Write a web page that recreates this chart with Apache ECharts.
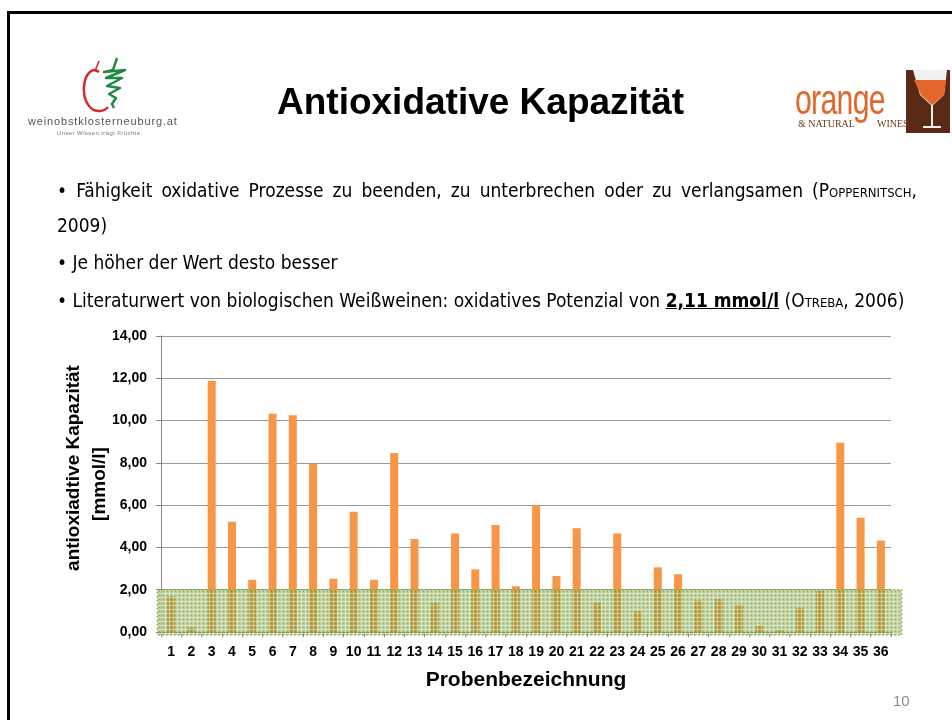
<!DOCTYPE html>
<html>
<head>
<meta charset="utf-8">
<script src="https://cdn.jsdelivr.net/npm/echarts@6/dist/echarts.min.js"></script>
<style>
body { margin: 0; background: #fff; }
#main { position: absolute; left: 0; top: 0; width: 952px; height: 720px; }
.t { position: absolute; white-space: nowrap; color: #000; }
.body { font-family: "Liberation Sans Narrow", "DejaVu Sans Condensed", "Liberation Sans", sans-serif; font-size: 19px; }
.sc { font-variant: small-caps; }
</style>
</head>
<body>
<div id="main"></div>

<div class="t" style="left:277px;top:81px;font:bold 37px 'Liberation Sans',Arial,sans-serif;">Antioxidative Kapazität</div>

<div class="t body" style="left:57px;top:179px;width:860px;text-align:justify;text-align-last:justify;white-space:normal;">• Fähigkeit oxidative Prozesse zu beenden, zu unterbrechen oder zu verlangsamen (<span class="sc">Poppernitsch</span>,</div>
<div class="t body" style="left:57px;top:214px;">2009)</div>
<div class="t body" style="left:57px;top:251px;">• Je höher der Wert desto besser</div>
<div class="t body" style="left:57px;top:289px;">• Literaturwert von biologischen Weißweinen: oxidatives Potenzial von <b><u>2,11 mmol/l</u></b> (<span class="sc">Otreba</span>, 2006)</div>

<div class="t" style="left:28px;top:115px;font:11px 'Liberation Sans',Arial,sans-serif;color:#555;letter-spacing:0.85px;">weinobstklosterneuburg.at</div>
<div class="t" style="left:57px;top:130px;font:6px 'Liberation Sans',Arial,sans-serif;color:#777;letter-spacing:0.4px;">Unser Wissen trägt Früchte.</div>

<div class="t" style="left:795px;top:76px;font:42px 'Liberation Sans Narrow','Liberation Sans',sans-serif;color:#e4662c;transform-origin:0 0;transform:scaleX(0.72);letter-spacing:-1px;">orange</div>
<div class="t" style="left:798px;top:118px;font:10px 'Liberation Serif',serif;color:#6b3a1e;">&amp; NATURAL</div>
<div class="t" style="left:877px;top:118px;font:10px 'Liberation Serif',serif;color:#6b3a1e;">WINES</div>

<div class="t" style="left:893px;top:692px;font:15px 'Liberation Sans',Arial,sans-serif;color:#8c8c8c;">10</div>

<script>
// Probenbezeichnung 1..36
var proben = [];
for (var i = 1; i <= 36; i++) proben.push(String(i));

// antioxidative Kapazität [mmol/l]
var kapazitaet = [
    1.69, 0.22, 11.88, 5.21, 2.47, 10.32, 10.25, 7.95, 2.52, 5.69,
    2.47, 8.47, 4.40, 1.39, 4.66, 2.96, 5.06, 2.16, 6.00, 2.65,
    4.91, 1.39, 4.66, 0.99, 3.06, 2.73, 1.50, 1.57, 1.28, 0.31,
    0.09, 1.15, 1.94, 8.95, 5.40, 4.33
];

// Bereich um den Literaturwert (schraffiert)
var band = [0, 2];
var yMin = 0, yMax = 14, yStep = 2;

var dom = document.getElementById('main');
var chart = echarts.init(dom);

function makePattern() {
    var c = document.createElement('canvas');
    c.width = 4; c.height = 4;
    var g = c.getContext('2d');
    g.fillStyle = 'rgba(128,165,60,0.55)';
    g.fillRect(0, 0, 4, 4);
    g.fillStyle = 'rgba(255,255,255,0.4)';
    g.fillRect(0, 1, 4, 1);
    g.fillRect(1, 0, 1, 4);
    g.fillStyle = 'rgba(100,135,40,0.5)';
    g.fillRect(3, 3, 1, 1);
    return c;
}

var logo = [
    // Rahmen
    { type: 'line', id: 'fTop', shape: { x1: 7, y1: 12.5, x2: 952, y2: 12.5 }, style: { stroke: '#000', lineWidth: 3 } },
    { type: 'line', id: 'fLeft', shape: { x1: 8.5, y1: 11, x2: 8.5, y2: 720 }, style: { stroke: '#000', lineWidth: 3 } },
    // Apfel
    { type: 'bezierCurve', id: 'apple1', shape: { x1: 99, y1: 72, cpx1: 86, cpy1: 62, cpx2: 76, cpy2: 96, x2: 92, y2: 109 }, style: { stroke: '#d42a2a', lineWidth: 2.5, fill: null } },
    { type: 'bezierCurve', id: 'apple2', shape: { x1: 92, y1: 109, cpx1: 96, cpy1: 112, cpx2: 104, cpy2: 112, x2: 108, y2: 107 }, style: { stroke: '#d42a2a', lineWidth: 2.5, fill: null } },
    { type: 'line', id: 'stem', shape: { x1: 95, y1: 71, x2: 99, y2: 61 }, style: { stroke: '#d42a2a', lineWidth: 1.5 } },
    { type: 'polyline', id: 'swirl', shape: { points: [[117, 58], [113, 70], [104, 72], [125, 70], [106, 78], [122, 78], [107, 86], [120, 88], [109, 94], [116, 98], [112, 104], [114, 108]] }, style: { stroke: '#1e8a43', lineWidth: 2.5, fill: null, lineJoin: 'round' } },
    // Glas
    { type: 'rect', id: 'glassBg', shape: { x: 906, y: 70, width: 44, height: 63 }, style: { fill: '#5b2a17' } },
    { type: 'polygon', id: 'glassBowl', shape: { points: [[913, 70], [947, 70], [944, 95], [932, 106], [920, 95]] }, style: { fill: '#f0f0f0' } },
    { type: 'polygon', id: 'glassWine', shape: { points: [[914, 80], [946, 80], [944, 95], [932, 105], [921, 95]] }, style: { fill: '#e4662c' } },
    { type: 'rect', id: 'glassStem', shape: { x: 931, y: 105, width: 2, height: 22 }, style: { fill: '#f0f0f0' } },
    { type: 'rect', id: 'glassFoot', shape: { x: 923, y: 126, width: 18, height: 2 }, style: { fill: '#f0f0f0' } }
];

var option = {
    animation: false,
    grid: { left: 161, right: 61, top: 336, bottom: 88 },
    xAxis: {
        type: 'category',
        data: proben,
        name: 'Probenbezeichnung',
        nameLocation: 'middle',
        nameGap: 38,
        nameTextStyle: { fontSize: 21, fontWeight: 'bold', color: '#000', fontFamily: 'Liberation Sans' },
        axisLine: { lineStyle: { color: '#868686' } },
        axisTick: { show: true, length: 5, lineStyle: { color: '#868686' } },
        axisLabel: { interval: 0, margin: 13, fontSize: 14, fontWeight: 'bold', color: '#000', fontFamily: 'Liberation Sans' }
    },
    yAxis: {
        type: 'value',
        min: yMin,
        max: yMax,
        interval: yStep,
        name: '{a|antioxiadtive Kapazität}\n{b|[mmol/l]}',
        nameLocation: 'middle',
        nameGap: 48,
        nameMoveOverlap: false,
        nameTextStyle: {
            fontSize: 19, fontWeight: 'bold', color: '#000', lineHeight: 26, fontFamily: 'Liberation Sans',
            rich: {
                a: { fontSize: 19, fontWeight: 'bold', color: '#000', lineHeight: 26, fontFamily: 'Liberation Sans', padding: [0, 0, 0, 32] },
                b: { fontSize: 19, fontWeight: 'bold', color: '#000', lineHeight: 26, fontFamily: 'Liberation Sans' }
            }
        },
        axisLine: { show: true, lineStyle: { color: '#868686' } },
        axisTick: { show: true, length: 5, lineStyle: { color: '#868686' } },
        axisLabel: {
            margin: 14, fontSize: 14, fontWeight: 'bold', color: '#000', fontFamily: 'Liberation Sans',
            formatter: function (v) { return v.toFixed(2).replace('.', ','); }
        },
        splitLine: { lineStyle: { color: '#999' } }
    },
    series: [{
        type: 'bar',
        data: kapazitaet,
        barWidth: 8,
        itemStyle: { color: '#f79646' }
    }],
    graphic: logo
};
chart.setOption(option);

// schraffierter Bereich 0..2, etwas breiter als die Zeichenfläche
var yLo = chart.convertToPixel({ yAxisIndex: 0 }, band[0]);
var yHi = chart.convertToPixel({ yAxisIndex: 0 }, band[1]);
var xL = chart.convertToPixel({ xAxisIndex: 0 }, proben[0]) - 14;
var xR = chart.convertToPixel({ xAxisIndex: 0 }, proben[proben.length - 1]) + 21;
chart.setOption({
    graphic: logo.concat([{
        type: 'rect', id: 'band', z: 100,
        shape: { x: xL, y: yHi, width: xR - xL, height: yLo - yHi + 3 },
        style: { fill: { image: makePattern(), repeat: 'repeat' }, stroke: '#7f9f45', lineWidth: 1, lineDash: [2, 2] }
    }])
});
</script>
</body>
</html>
